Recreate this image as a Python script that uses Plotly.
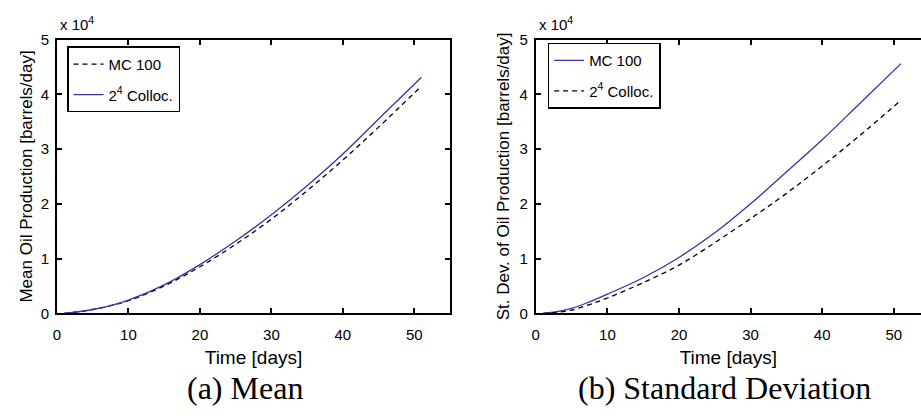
import plotly.graph_objects as go

# ---- data ----
t_days = [1, 2.5, 5, 7.5, 10, 15, 20, 25, 30, 35, 40, 45, 51]
mean_colloc = [0.0, 0.02, 0.07, 0.14, 0.24, 0.52, 0.89, 1.32, 1.80, 2.33, 2.91, 3.55, 4.31]
mean_mc = [0.0, 0.02, 0.07, 0.14, 0.23, 0.50, 0.85, 1.26, 1.72, 2.24, 2.80, 3.40, 4.15]
std_mc = [0.0, 0.02, 0.09, 0.21, 0.35, 0.65, 1.02, 1.47, 2.00, 2.58, 3.17, 3.80, 4.56]
std_colloc = [0.0, 0.01, 0.06, 0.16, 0.28, 0.56, 0.88, 1.29, 1.73, 2.19, 2.69, 3.22, 3.89]

x_ticks = [0, 10, 20, 30, 40, 50]
y_ticks = [0, 1, 2, 3, 4, 5]

BLUE = "rgb(52,52,168)"
BLACK = "black"
SANS = "Liberation Sans, Arial, sans-serif"
SERIF = "Liberation Serif, Times New Roman, serif"

fig = go.Figure()

# left panel: mean
fig.add_trace(go.Scatter(x=t_days, y=mean_mc, mode="lines", name="MC 100",
                         line=dict(color=BLACK, width=1.3, dash="5px,4px", shape="spline"),
                         xaxis="x", yaxis="y", legend="legend", legendgroup="a1"))
fig.add_trace(go.Scatter(x=t_days, y=mean_colloc, mode="lines", name="2<sup>4</sup> Colloc.",
                         line=dict(color=BLUE, width=1.3, shape="spline"),
                         xaxis="x", yaxis="y", legend="legend", legendgroup="a2"))
# right panel: standard deviation
fig.add_trace(go.Scatter(x=t_days, y=std_mc, mode="lines", name="MC 100",
                         line=dict(color=BLUE, width=1.3, shape="spline"),
                         xaxis="x2", yaxis="y2", legend="legend2", legendgroup="b1"))
fig.add_trace(go.Scatter(x=t_days, y=std_colloc, mode="lines", name="2<sup>4</sup> Colloc.",
                         line=dict(color=BLACK, width=1.3, dash="5px,4px", shape="spline"),
                         xaxis="x2", yaxis="y2", legend="legend2", legendgroup="b2"))

W, H = 921, 416
y_dom = [1 - 317.3 / H, 1 - 31.8 / H]

axis_common = dict(showline=True, linecolor="black", linewidth=2, ticks="inside",
                   ticklen=5, tickwidth=1.5, tickcolor="black", showgrid=False,
                   zeroline=False, tickfont=dict(family=SANS, size=15, color="black"))

fig.update_layout(
    width=W, height=H, margin=dict(l=0, r=0, t=0, b=0),
    plot_bgcolor="white", paper_bgcolor="white", showlegend=True,
    xaxis=dict(domain=[53.2 / W, 448 / W], range=[0, 55], tickvals=x_ticks, mirror="ticks",
               anchor="y", ticklabelstandoff=7,
               title=dict(text="Time [days]", font=dict(family=SANS, size=19, color="black"), standoff=8),
               **axis_common),
    yaxis=dict(domain=y_dom, range=[0, 5], tickvals=y_ticks, mirror="ticks", anchor="x",
               ticklabelstandoff=3,
               title=dict(text="Mean Oil Production [barrels/day]", font=dict(family=SANS, size=17, color="black"), standoff=4),
               **axis_common),
    xaxis2=dict(domain=[534.1 / W, 1.0], range=[0, 53.8], tickvals=x_ticks, mirror="ticks",
                anchor="y2", ticklabelstandoff=7,
                title=dict(text="Time [days]", font=dict(family=SANS, size=19, color="black"), standoff=8),
                **axis_common),
    yaxis2=dict(domain=y_dom, range=[0, 5], tickvals=y_ticks, mirror=False, anchor="x2",
                ticklabelstandoff=3,
                title=dict(text="St. Dev. of Oil Production [barrels/day]", font=dict(family=SANS, size=17, color="black"), standoff=5),
                **axis_common),
    legend=dict(x=63.3 / W, y=1 - 39 / H, xanchor="left", yanchor="top",
                bordercolor="black", borderwidth=1.5, bgcolor="white",
                font=dict(family=SANS, size=15, color="black"), tracegroupgap=8),
    legend2=dict(x=546 / W, y=1 - 35 / H, xanchor="left", yanchor="top",
                 bordercolor="black", borderwidth=1.5, bgcolor="white",
                 font=dict(family=SANS, size=15, color="black"), tracegroupgap=8),
    annotations=[
        dict(text="x 10<sup>4</sup>", x=54 / W, y=1 - 27 / H, xref="paper", yref="paper",
             xanchor="left", yanchor="bottom", showarrow=False,
             font=dict(family=SANS, size=15, color="black")),
        dict(text="x 10<sup>4</sup>", x=535 / W, y=1 - 27 / H, xref="paper", yref="paper",
             xanchor="left", yanchor="bottom", showarrow=False,
             font=dict(family=SANS, size=15, color="black")),
        dict(text="(a) Mean", x=242.5 / W, y=1 - 395 / H, xref="paper", yref="paper",
             xanchor="center", yanchor="middle", showarrow=False,
             font=dict(family=SERIF, size=32, color="black")),
        dict(text="(b) Standard Deviation", x=723.5 / W, y=1 - 395 / H, xref="paper", yref="paper",
             xanchor="center", yanchor="middle", showarrow=False,
             font=dict(family=SERIF, size=32, color="black")),
    ],
)

fig.write_html("out.html")
